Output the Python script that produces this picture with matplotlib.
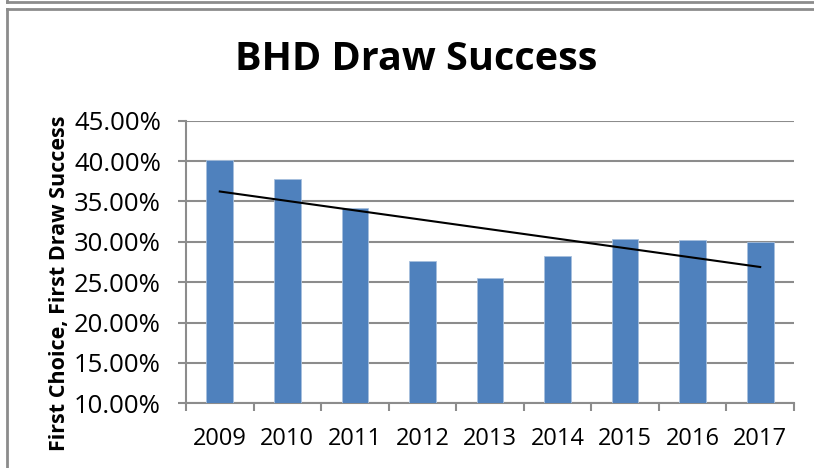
import numpy as np
import matplotlib
matplotlib.use('Agg')
import matplotlib.pyplot as plt
from matplotlib.lines import Line2D
from matplotlib.ticker import FuncFormatter, FixedLocator

plt.rcParams['font.family'] = ['Open Sans', 'DejaVu Sans']

years = ['2009', '2010', '2011', '2012', '2013', '2014', '2015', '2016', '2017']
success = [0.401, 0.378, 0.342, 0.276, 0.255, 0.2825, 0.304, 0.302, 0.300]

fig = plt.figure(figsize=(8.14, 4.68), dpi=100)
ax = fig.add_axes([0.2285, 0.1382, 0.7469, 0.6038])

x = np.arange(len(years))
ax.bar(x, success, width=0.395, color='#4F81BD', edgecolor='#A7C0DE', linewidth=0.6, zorder=3)

# linear trendline (least squares like Excel)
k, b = np.polyfit(x, success, 1)
ax.plot(x, k * x + b, color='black', linewidth=1.5, zorder=4)

ax.set_xlim(-0.5, len(years) - 0.5)
ax.set_ylim(0.10, 0.45)
ax.set_yticks(np.arange(0.10, 0.4501, 0.05))
ax.yaxis.set_major_formatter(FuncFormatter(lambda v, p: '%.2f%%' % (v * 100)))
ax.yaxis.grid(True, color='#8C8C8C', linewidth=1.5, zorder=0)

ax.set_xticks(x)
ax.set_xticklabels(years)
ax.xaxis.set_minor_locator(FixedLocator(np.arange(-0.5, len(years), 1)))
ax.tick_params(axis='x', which='major', length=0, pad=17, labelsize=17)
ax.tick_params(axis='x', which='minor', length=6, width=1.5, color='#8C8C8C', direction='out')
ax.tick_params(axis='y', length=6, width=1.5, color='#8C8C8C', pad=12, labelsize=18.5)

for s in ['top', 'right']:
    ax.spines[s].set_visible(False)
for s in ['left', 'bottom']:
    ax.spines[s].set_color('#8C8C8C')
    ax.spines[s].set_linewidth(1.5)

fig.text(60 / 814, 1 - 283 / 468, 'First Choice, First Draw Success', rotation=90,
         ha='center', va='center', fontsize=15.5, fontweight='bold')
fig.text(416.5 / 814, 1 - 70 / 468, 'BHD Draw Success', ha='center', va='baseline',
         fontsize=28.5, fontweight='bold')

# outer chart frames
fig.add_artist(Line2D([7 / 814, 1], [1 - 1.5 / 468] * 2, color='#8C8C8C', linewidth=2))
fig.add_artist(Line2D([7 / 814, 7 / 814], [1, 1 - 1.5 / 468], color='#8C8C8C', linewidth=2))
fig.add_artist(Line2D([7 / 814, 1], [1 - 8.5 / 468] * 2, color='#8C8C8C', linewidth=2))
fig.add_artist(Line2D([7 / 814, 7 / 814], [0, 1 - 8.5 / 468], color='#8C8C8C', linewidth=2))

fig.savefig('out.png', dpi=100)
